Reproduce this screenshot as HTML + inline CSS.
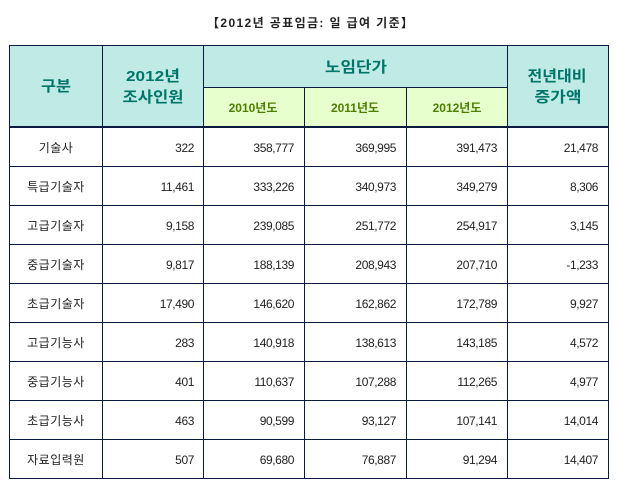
<!DOCTYPE html>
<html>
<head>
<meta charset="utf-8">
<style>
html,body{margin:0;padding:0;background:#fff;}
svg{display:block;}
.d{font-family:"Liberation Sans","Noto Sans CJK KR",sans-serif;font-size:12px;fill:#222;}
.n{text-anchor:end;letter-spacing:-0.4px;}
.k{text-anchor:middle;letter-spacing:0.5px;}
.h{font-family:"Liberation Sans","Noto Sans CJK KR",sans-serif;font-size:15px;fill:#00766a;text-anchor:middle;font-weight:bold;}
.s{font-family:"Liberation Sans","Noto Sans CJK KR",sans-serif;font-size:12px;fill:#4a7f00;text-anchor:middle;font-weight:bold;}
.t{font-family:"Liberation Sans","Noto Sans CJK KR",sans-serif;font-size:12px;fill:#222;font-weight:bold;}
</style>
</head>
<body>
<svg width="618" height="487" viewBox="0 0 618 487" xmlns="http://www.w3.org/2000/svg">
<rect x="0" y="0" width="618" height="487" fill="#fff"/>
<text class="t" x="207" y="27" textLength="206" lengthAdjust="spacing">【2012년 공표임금: 일 급여 기준】</text>

<!-- header fills -->
<rect x="10" y="46" width="598" height="80" fill="#bfeae5"/>
<rect x="204" y="88" width="303" height="38" fill="#e6ffcc"/>

<!-- horizontal lines -->
<g fill="#0b1a3f">
<rect x="9" y="45" width="600" height="1"/>
<rect x="203" y="87" width="305" height="1"/>
<rect x="9" y="126" width="600" height="2"/>
<rect x="9" y="166" width="600" height="1"/>
<rect x="9" y="205" width="600" height="1"/>
<rect x="9" y="244" width="600" height="1"/>
<rect x="9" y="283" width="600" height="1"/>
<rect x="9" y="322" width="600" height="1"/>
<rect x="9" y="361" width="600" height="1"/>
<rect x="9" y="400" width="600" height="1"/>
<rect x="9" y="439" width="600" height="1"/>
<rect x="9" y="478" width="600" height="1"/>
<!-- vertical lines -->
<rect x="9" y="45" width="1" height="434"/>
<rect x="102" y="45" width="1" height="434"/>
<rect x="203" y="45" width="1" height="434"/>
<rect x="304" y="87" width="1" height="392"/>
<rect x="406" y="87" width="1" height="392"/>
<rect x="507" y="45" width="1" height="434"/>
<rect x="608" y="45" width="1" height="434"/>
</g>

<!-- header text -->
<text class="h" x="56" y="91" textLength="30" lengthAdjust="spacingAndGlyphs">구분</text>
<text class="h" x="153" y="81" textLength="54" lengthAdjust="spacingAndGlyphs">2012년</text>
<text class="h" x="153" y="102" textLength="61" lengthAdjust="spacingAndGlyphs">조사인원</text>
<text class="h" x="356" y="72" textLength="62" lengthAdjust="spacingAndGlyphs">노임단가</text>
<text class="h" x="557" y="81" textLength="59" lengthAdjust="spacingAndGlyphs">전년대비</text>
<text class="h" x="558" y="102" textLength="47" lengthAdjust="spacingAndGlyphs">증가액</text>
<text class="s" x="253" y="112">2010년도</text>
<text class="s" x="355" y="112">2011년도</text>
<text class="s" x="457" y="112">2012년도</text>

<!-- data rows -->
<g class="d">
<text class="k" x="56" y="152">기술사</text>
<text class="n" x="194" y="152">322</text>
<text class="n" x="294" y="152">358,777</text>
<text class="n" x="396" y="152">369,995</text>
<text class="n" x="497" y="152">391,473</text>
<text class="n" x="598" y="152">21,478</text>

<text class="k" x="56" y="191">특급기술자</text>
<text class="n" x="194" y="191">11,461</text>
<text class="n" x="294" y="191">333,226</text>
<text class="n" x="396" y="191">340,973</text>
<text class="n" x="497" y="191">349,279</text>
<text class="n" x="598" y="191">8,306</text>

<text class="k" x="56" y="230">고급기술자</text>
<text class="n" x="194" y="230">9,158</text>
<text class="n" x="294" y="230">239,085</text>
<text class="n" x="396" y="230">251,772</text>
<text class="n" x="497" y="230">254,917</text>
<text class="n" x="598" y="230">3,145</text>

<text class="k" x="56" y="269">중급기술자</text>
<text class="n" x="194" y="269">9,817</text>
<text class="n" x="294" y="269">188,139</text>
<text class="n" x="396" y="269">208,943</text>
<text class="n" x="497" y="269">207,710</text>
<text class="n" x="598" y="269">-1,233</text>

<text class="k" x="56" y="308">초급기술자</text>
<text class="n" x="194" y="308">17,490</text>
<text class="n" x="294" y="308">146,620</text>
<text class="n" x="396" y="308">162,862</text>
<text class="n" x="497" y="308">172,789</text>
<text class="n" x="598" y="308">9,927</text>

<text class="k" x="56" y="347">고급기능사</text>
<text class="n" x="194" y="347">283</text>
<text class="n" x="294" y="347">140,918</text>
<text class="n" x="396" y="347">138,613</text>
<text class="n" x="497" y="347">143,185</text>
<text class="n" x="598" y="347">4,572</text>

<text class="k" x="56" y="386">중급기능사</text>
<text class="n" x="194" y="386">401</text>
<text class="n" x="294" y="386">110,637</text>
<text class="n" x="396" y="386">107,288</text>
<text class="n" x="497" y="386">112,265</text>
<text class="n" x="598" y="386">4,977</text>

<text class="k" x="56" y="425">초급기능사</text>
<text class="n" x="194" y="425">463</text>
<text class="n" x="294" y="425">90,599</text>
<text class="n" x="396" y="425">93,127</text>
<text class="n" x="497" y="425">107,141</text>
<text class="n" x="598" y="425">14,014</text>

<text class="k" x="56" y="464">자료입력원</text>
<text class="n" x="194" y="464">507</text>
<text class="n" x="294" y="464">69,680</text>
<text class="n" x="396" y="464">76,887</text>
<text class="n" x="497" y="464">91,294</text>
<text class="n" x="598" y="464">14,407</text>
</g>
</svg>
</body>
</html>
